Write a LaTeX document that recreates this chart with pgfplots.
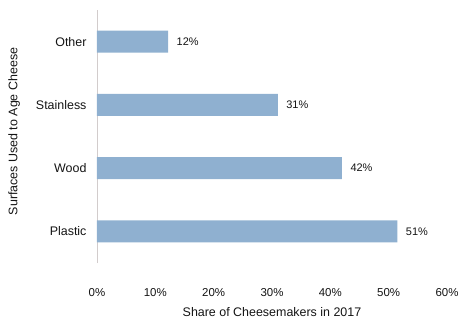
\documentclass[border=0pt]{standalone}
\usepackage{pgfplots}
\pgfplotsset{compat=1.18}
\usepackage{fontspec}
\setmainfont{Liberation Sans}
\definecolor{barblue}{RGB}{143,176,208}
\definecolor{axisgray}{RGB}{210,204,204}
\definecolor{txt}{RGB}{20,20,20}
\begin{document}
\begin{tikzpicture}
\begin{axis}[
  scale only axis,
  width=350bp, height=253bp,
  xmin=0, xmax=60,
  ymin=0.5, ymax=4.5,
  xbar, bar width=22bp,
  axis x line=none,
  axis y line*=left,
  y axis line style={draw=axisgray, line width=0.8pt, -},
  ytick={1,2,3,4},
  yticklabels={Plastic,Wood,Stainless,Other},
  major tick length=0pt,
  yticklabel style={font=\fontsize{12.5}{14}\selectfont, text=txt, xshift=-7bp},
  ylabel={Surfaces Used to Age Cheese},
  ylabel style={font=\fontsize{12.5}{14}\selectfont, text=txt, at={(axis description cs:-0.237,0.52)}, anchor=center},
  point meta=explicit symbolic,
  nodes near coords,
  nodes near coords style={font=\fontsize{11}{13}\selectfont, text=txt, anchor=west, xshift=5bp},
  clip=false,
]
\addplot[fill=barblue, draw=none] table[meta=lab] {
x y lab
51.5 1 51\%
42 2 42\%
31 3 31\%
12.2 4 12\%
};
\foreach \v in {0,10,...,60} {
  \edef\temp{\noexpand\node[font=\noexpand\fontsize{11.5}{13}\noexpand\selectfont, text=txt] at (axis cs:\v,0.5) [yshift=-30bp] {\v\noexpand\%};}
  \temp
}
\node[font=\fontsize{12.5}{14}\selectfont, text=txt] at (axis cs:30,0.5) [yshift=-49bp] {Share of Cheesemakers in 2017};
\end{axis}
\path[use as bounding box] ([xshift=-97bp,yshift=-62bp]current axis.south west) rectangle ([xshift=365bp,yshift=263bp]current axis.south west);
\end{tikzpicture}
\end{document}
